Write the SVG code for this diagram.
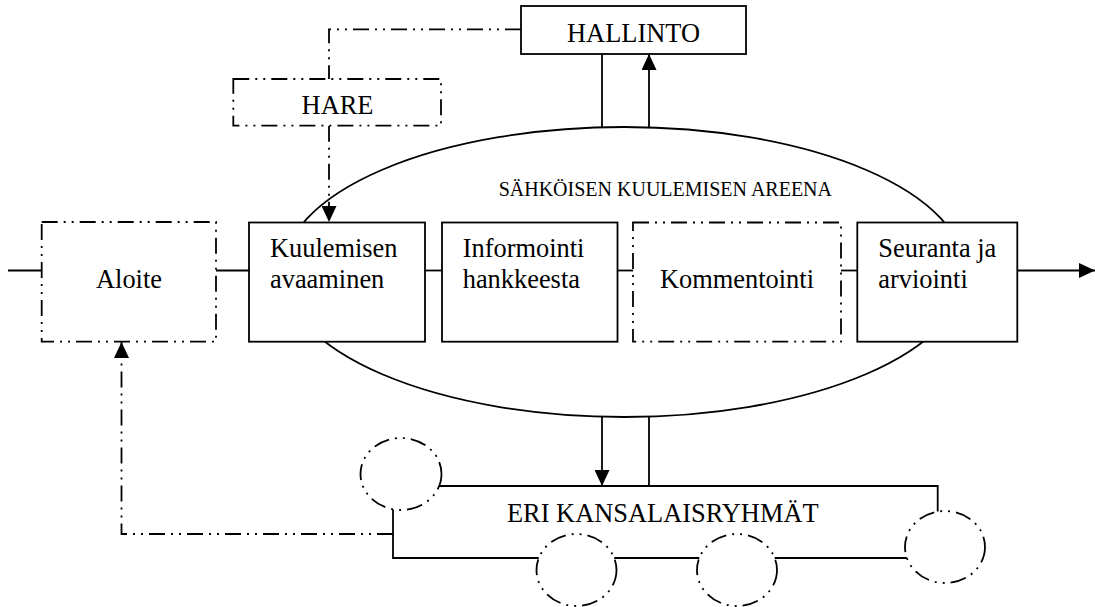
<svg xmlns="http://www.w3.org/2000/svg" width="1095" height="607" viewBox="0 0 1095 607">
<style>
.s{fill:none;stroke:#000;stroke-width:1.8}
.b{fill:#fff;stroke:#000;stroke-width:1.8}
.d{stroke-dasharray:16 6 2 6 2 6}
.t{font-family:"Liberation Serif","Times New Roman",serif;font-size:26.4px;fill:#000}
.m{text-anchor:middle}
</style>
<defs>
<marker id="ah" markerUnits="userSpaceOnUse" markerWidth="16" markerHeight="15" refX="16" refY="7.5" orient="auto">
<path d="M0,0 L16,7.5 L0,15 z" fill="#000"/>
</marker>
</defs>
<rect width="1095" height="607" fill="#fff"/>
<g id="arena">
<ellipse class="s" cx="624" cy="272" rx="341" ry="145"/>
<text class="t" x="832" y="196" style="font-size:20px;text-anchor:end">SÄHKÖISEN KUULEMISEN AREENA</text>
</g>
<g id="connectors">
<path class="s" d="M8,270.5 H41.7"/>
<path class="s" d="M216,270.5 H249"/>
<path class="s" d="M425,270.5 H442"/>
<path class="s" d="M617,270.5 H633"/>
<path class="s" d="M841,270.5 H857"/>
<path class="s" d="M1017,270.5 H1095" marker-end="url(#ah)"/>
<path class="s" d="M602,54 V127.3"/>
<path class="s" d="M649,127.4 V54" marker-end="url(#ah)"/>
<path class="s" d="M602,416.7 V486" marker-end="url(#ah)"/>
<path class="s" d="M649,416.6 V486"/>
<path class="s d" d="M521,29.3 H329 V79"/>
<path class="s d" d="M329,125.7 V222" marker-end="url(#ah)"/>
<path class="s d" d="M393,534 H121.5 V342" marker-end="url(#ah)"/>
</g>
<g id="aloite">
<rect class="b d" x="41.7" y="222" width="174.3" height="119.7"/>
<text class="t m" x="129" y="288.3">Aloite</text>
</g>
<g id="kuulemisen">
<rect class="b" x="249" y="222.5" width="176" height="119.2"/>
<text class="t" x="270" y="257.3">Kuulemisen</text>
<text class="t" x="270" y="288.3">avaaminen</text>
</g>
<g id="informointi">
<rect class="b" x="442" y="222.5" width="175.5" height="119.2"/>
<text class="t" x="462.7" y="257.3">Informointi</text>
<text class="t" x="462.7" y="288.3">hankkeesta</text>
</g>
<g id="kommentointi">
<rect class="b d" x="633" y="222.5" width="208" height="119.2"/>
<text class="t m" x="737" y="288.3">Kommentointi</text>
</g>
<g id="seuranta">
<rect class="b" x="857.3" y="222.5" width="160" height="119.2"/>
<text class="t" x="878.3" y="257.3">Seuranta ja</text>
<text class="t" x="878.3" y="288.3">arviointi</text>
</g>
<g id="hallinto">
<rect class="b" x="521" y="6" width="225" height="48"/>
<text class="t m" x="633.5" y="41.7">HALLINTO</text>
</g>
<g id="hare">
<rect class="b d" x="233.3" y="79" width="207.7" height="46.7"/>
<text class="t m" x="337.5" y="114">HARE</text>
</g>
<g id="kansalaisryhmat">
<path class="s" d="M439,486 H937.7 V511.6"/>
<path class="s" d="M393,509.5 V558 H538.8"/>
<path class="s" d="M614.2,558 H699.3"/>
<path class="s" d="M774.7,558 H906.9"/>
<ellipse class="s d" cx="401" cy="474" rx="40.5" ry="36"/>
<ellipse class="s d" cx="576.5" cy="570" rx="40" ry="36"/>
<ellipse class="s d" cx="737" cy="570" rx="40" ry="36"/>
<ellipse class="s d" cx="945" cy="547" rx="40" ry="36"/>
<text class="t" x="507" y="521.5">ERI KANSALAISRYHMÄT</text>
</g>
</svg>
